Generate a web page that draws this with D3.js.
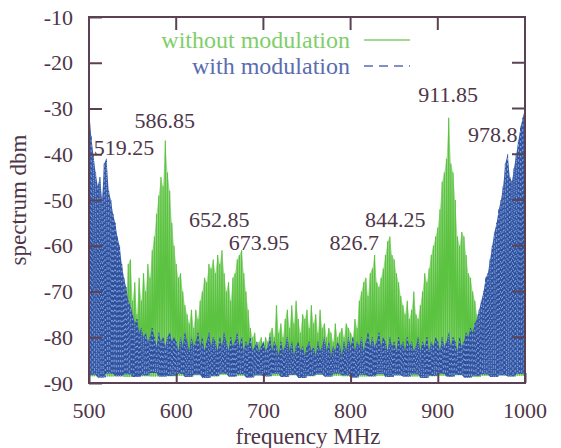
<!DOCTYPE html>
<html>
<head>
<meta charset="utf-8">
<script src="https://cdn.jsdelivr.net/npm/d3@7"></script>
<style>
body{margin:0;background:#fff}
text{font-family:"Liberation Serif","DejaVu Serif",serif;fill:#4e3648}
</style>
</head>
<body>
<div id="chart"></div>
<script>
// spectrum samples, one every 2.5 MHz from 500 to 1000
var startFreq = 500;
var freqStep = 2.5;
var withoutMod = [
 -40,-48,-45,-55,-50,-58,-52,-47,-50,-60,-58,-64,-62,-70,-68,-75,-74,-78,-64,-63,
 -72,-68,-75,-67,-72,-66,-70,-64,-67,-61,-58,-53,-49,-45,-47,-37,-44,-48,-55,-60,
 -64,-67,-66,-70,-73,-75,-77,-74,-78,-74,-76,-72,-70,-67,-68,-64,-65,-63,-66,-62,
 -64,-61,-66,-70,-68,-72,-67,-66,-63,-62,-61,-66,-70,-74,-78,-80,-79,-82,-81,-80,
 -82,-80,-81,-79,-78,-80,-73,-79,-77,-80,-76,-74,-78,-73,-77,-72,-76,-79,-75,-76,
 -74,-78,-73,-77,-75,-79,-74,-78,-77,-80,-78,-79,-81,-77,-80,-79,-78,-80,-77,-78,
 -79,-80,-76,-78,-72,-70,-68,-67,-71,-66,-65,-62,-68,-69,-67,-65,-62,-59,-58,-62,
 -63,-66,-68,-71,-73,-75,-72,-76,-74,-70,-75,-76,-73,-70,-66,-68,-65,-62,-60,-58,
 -56,-52,-46,-44,-41,-32,-42,-44,-50,-58,-60,-57,-58,-62,-66,-67,-70,-72,-75,-77,
 -78,-80,-79,-81,-80,-78,-74,-70,-66,-62,-58,-55,-50,-47,-48,-45,-50,-46,-42,-40,
 -36];
var withMod = [
 -30,-36,-40,-44,-47,-45,-50,-42,-41,-48,-50,-53,-55,-58,-60,-64,-67,-69,-72,-73,
 -75,-77,-76,-79,-78,-80,-79,-81,-80,-78,-80,-82,-79,-81,-80,-82,-80,-79,-81,-80,
 -81,-83,-80,-82,-79,-81,-83,-80,-82,-81,-79,-82,-80,-83,-81,-79,-82,-80,-81,-83,
 -80,-82,-79,-81,-83,-80,-82,-81,-79,-82,-80,-83,-81,-82,-80,-83,-82,-81,-83,-82,
 -81,-83,-82,-80,-83,-81,-82,-84,-81,-83,-82,-80,-83,-81,-84,-82,-81,-83,-82,-84,
 -82,-81,-83,-82,-84,-81,-83,-82,-80,-83,-81,-84,-82,-83,-81,-82,-84,-81,-83,-80,
 -82,-80,-83,-81,-82,-80,-83,-81,-79,-82,-80,-82,-81,-79,-82,-80,-81,-83,-80,-82,
 -81,-83,-80,-82,-81,-83,-80,-82,-81,-83,-82,-80,-83,-81,-82,-80,-83,-81,-82,-80,
 -81,-83,-80,-82,-81,-79,-82,-80,-81,-83,-80,-82,-81,-79,-80,-78,-79,-77,-76,-74,
 -72,-70,-67,-66,-63,-60,-57,-55,-52,-50,-47,-42,-40,-45,-46,-43,-40,-37,-34,-32,
 -30];
// lower edge of the noise, one every 10 MHz
var withoutModLow = [
 -88.5,-88.3,-88.6,-88.4,-88.7,-88.3,-88.5,-88.6,-88.2,-88.5,
 -88.4,-88.7,-88.3,-88.5,-88.6,-88.2,-88.5,-88.4,-88.7,-88.3,
 -88.5,-88.4,-88.6,-88.3,-88.7,-88.5,-88.2,-88.6,-88.4,-88.5,
 -88.3,-88.6,-88.5,-88.4,-88.7,-88.3,-88.5,-88.6,-88.2,-88.5,
 -88.4,-88.6,-88.3,-88.5,-88.7,-88.4,-88.5,-88.3,-88.6,-88.4,
 -88.5];
var withModLow = [
 -88.2,-88.8,-87.9,-88.5,-88.1,-88.7,-88.3,-87.8,-88.6,-88.4,
 -88,-88.7,-88.2,-88.9,-88.4,-87.9,-88.6,-88.1,-88.8,-88.3,
 -88.5,-88,-88.7,-88.2,-88.9,-88.4,-88.1,-88.6,-87.9,-88.3,
 -88.8,-88.2,-88.5,-88,-88.7,-88.3,-88.6,-88.1,-88.9,-88.4,
 -88,-88.6,-88.2,-88.8,-88.4,-88.1,-88.7,-88.3,-88.5,-88,
 -88.4];
var xTicks = [500,600,700,800,900,1000];
var yTicks = [-10,-20,-30,-40,-50,-60,-70,-80,-90];
var peakFreqs = [519.25,586.85,652.85,673.95,826.7,844.25,911.85,978.8];
var seriesNames = ["without modulation","with modulation"];

var w = 561, h = 448;
var margins = {top:17, bottom:65, left:89, right:36};
var green = "#5cc241";

var xScale = d3.scaleLinear().domain([500,1000]).range([margins.left, w - margins.right]);
var yScale = d3.scaleLinear().domain([-90,-10]).range([h - margins.bottom, margins.top]);

var svg = d3.select("#chart").append("svg").attr("width", w).attr("height", h);

svg.append("clipPath").attr("id","plotclip").append("rect")
  .attr("x", margins.left).attr("y", margins.top)
  .attr("width", xScale(1000) - xScale(500)).attr("height", yScale(-90) - yScale(-10));

function zigzag(hi, lo) {
  var pts = [];
  hi.forEach(function(v, i) {
    var f = startFreq + i * freqStep;
    pts.push([xScale(f), yScale(v)]);
    if (i < hi.length - 1) pts.push([xScale(f + freqStep / 2), yScale(lo[Math.floor(i / 4)])]);
  });
  return d3.line()(pts);
}
function band(hi, lo) {
  return d3.area()
    .x(function(d, i){ return xScale(startFreq + i * freqStep); })
    .y0(function(d, i){ return yScale(lo[Math.floor(i / 4)]); })
    .y1(function(d){ return yScale(d); })(hi);
}

var plot = svg.append("g").attr("clip-path", "url(#plotclip)");
plot.append("path").attr("d", band(withoutMod, withoutModLow))
  .attr("fill", "#7fcf6a").attr("opacity", 0.7);
plot.append("path").attr("d", zigzag(withoutMod, withoutModLow))
  .attr("fill","none").attr("stroke", green).attr("stroke-width", 1.2);
plot.append("path").attr("d", band(withMod, withModLow))
  .attr("fill", "#3a5ca8");
plot.append("path").attr("d", zigzag(withMod, withModLow))
  .attr("fill","none").attr("stroke", "#2c4f9e").attr("stroke-width", 1.1);
plot.append("path").attr("d", zigzag(withMod, withModLow))
  .attr("fill","none").attr("stroke", "#86a3d6").attr("stroke-width", 1)
  .attr("stroke-dasharray","1.5,3.5");

// frame + inward ticks on all sides (labels drawn as plain text below)
var frameColor = "#5a4254";
var xAxis = d3.axisBottom(xScale).tickValues(xTicks).tickFormat("").tickSize(10);
var gx = svg.append("g").attr("transform","translate(0," + yScale(-90) + ")").call(xAxis);
gx.selectAll(".tick line").attr("y2", -10);
gx.append("g").selectAll("line").data(xTicks).enter().append("line")
  .attr("x1", function(d){return xScale(d);}).attr("x2", function(d){return xScale(d);})
  .attr("y1", yScale(-10) - yScale(-90)).attr("y2", yScale(-10) - yScale(-90) + 13)
  .attr("stroke", frameColor).attr("stroke-width", 2);

var yAxis = d3.axisLeft(yScale).tickValues(yTicks).tickFormat("").tickSize(13);
var gy = svg.append("g").attr("transform","translate(" + xScale(500) + ",0)").call(yAxis);
gy.selectAll(".tick line").attr("x2", 13);
gy.append("g").selectAll("line").data(yTicks).enter().append("line")
  .attr("x1", xScale(1000) - xScale(500)).attr("x2", xScale(1000) - xScale(500) - 13)
  .attr("y1", function(d){return yScale(d);}).attr("y2", function(d){return yScale(d);})
  .attr("stroke", frameColor).attr("stroke-width", 2);

svg.selectAll(".domain").remove();
svg.selectAll(".tick line").attr("stroke", frameColor).attr("stroke-width", 2);

svg.append("g").selectAll("text").data(xTicks).enter().append("text")
  .attr("x", function(d){return xScale(d);}).attr("y", 418)
  .attr("text-anchor","middle").attr("font-size", 22)
  .text(function(d){return String(d);});
svg.append("g").selectAll("text").data(yTicks).enter().append("text")
  .attr("x", xScale(500) - 16).attr("y", function(d){return yScale(d);})
  .attr("dy", "0.35em").attr("text-anchor","end").attr("font-size", 22)
  .text(function(d){return String(d);});

svg.append("rect").attr("x", xScale(500)).attr("y", yScale(-10))
  .attr("width", xScale(1000) - xScale(500)).attr("height", yScale(-90) - yScale(-10))
  .attr("fill","none").attr("stroke", frameColor).attr("stroke-width", 2);

// peak annotations
var annot = [
  {anchor:"start", dx:-12, db:-40.2},
  {anchor:"middle", dx:0, db:-34.3},
  {anchor:"middle", dx:-3, db:-55.9},
  {anchor:"start", dx:-12, db:-60.9},
  {anchor:"end", dx:5, db:-60.9},
  {anchor:"middle", dx:6, db:-55.9},
  {anchor:"middle", dx:0, db:-28.6},
  {anchor:"end", dx:11, db:-37.3}
];
svg.append("g").selectAll("text").data(peakFreqs).enter().append("text")
  .attr("x", function(d, i){return xScale(d) + annot[i].dx;})
  .attr("y", function(d, i){return yScale(annot[i].db);})
  .attr("text-anchor", function(d, i){return annot[i].anchor;})
  .attr("font-size", 22)
  .text(function(d){return String(d);});

// legend
var legend = svg.append("g");
legend.append("text").text(seriesNames[0]).attr("x", 350).attr("y", 48)
  .attr("text-anchor","end").attr("font-size", 24).style("fill", "#7fce6b");
legend.append("text").text(seriesNames[1]).attr("x", 350).attr("y", 74)
  .attr("text-anchor","end").attr("font-size", 24).style("fill", "#5a6cb0");
legend.append("line").attr("x1", 364).attr("x2", 410).attr("y1", 40).attr("y2", 40)
  .attr("stroke", "#7fce6b").attr("stroke-width", 1.5);
legend.append("line").attr("x1", 364).attr("x2", 410).attr("y1", 66).attr("y2", 66)
  .attr("stroke", "#5a6cb0").attr("stroke-width", 1.5).attr("stroke-dasharray","9,6");

// axis titles
svg.append("text").text("frequency MHz").attr("x", 308).attr("y", 444)
  .attr("text-anchor","middle").attr("font-size", 23);
svg.append("text").text("spectrum dbm")
  .attr("transform","translate(26,200) rotate(-90)")
  .attr("text-anchor","middle").attr("font-size", 23);
</script>
</body>
</html>
